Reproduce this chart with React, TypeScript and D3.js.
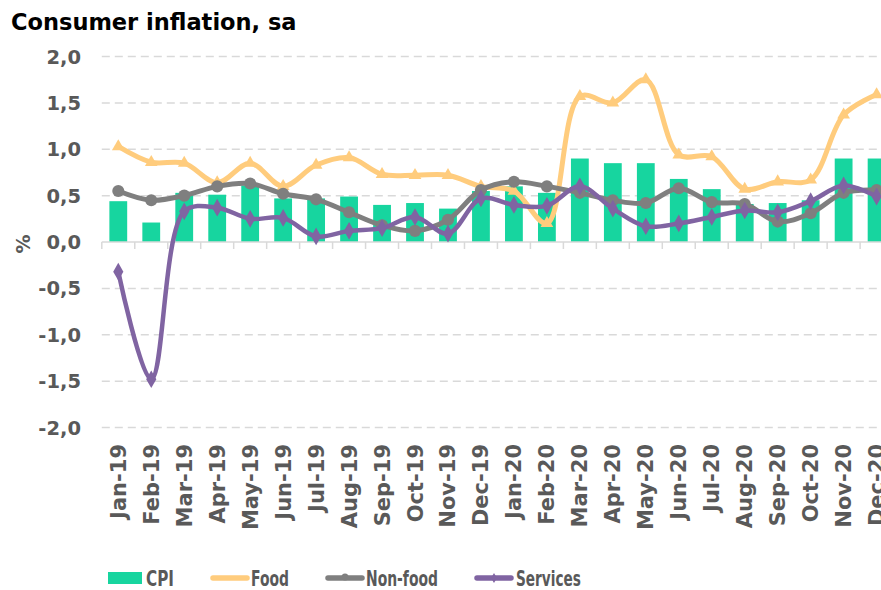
import React from 'react';
import * as d3 from 'd3';

const months = [
  'Jan-19', 'Feb-19', 'Mar-19', 'Apr-19', 'May-19', 'Jun-19', 'Jul-19', 'Aug-19', 'Sep-19', 'Oct-19', 'Nov-19', 'Dec-19',
  'Jan-20', 'Feb-20', 'Mar-20', 'Apr-20', 'May-20', 'Jun-20', 'Jul-20', 'Aug-20', 'Sep-20', 'Oct-20', 'Nov-20', 'Dec-20',
];
const cpi = [0.44, 0.21, 0.53, 0.51, 0.61, 0.47, 0.47, 0.49, 0.40, 0.42, 0.36, 0.55, 0.60, 0.53, 0.90, 0.85, 0.85, 0.68, 0.57, 0.41, 0.42, 0.45, 0.90, 0.90];
const food = [1.03, 0.86, 0.85, 0.64, 0.85, 0.60, 0.83, 0.91, 0.73, 0.72, 0.72, 0.60, 0.55, 0.20, 1.57, 1.50, 1.75, 0.94, 0.92, 0.57, 0.65, 0.67, 1.37, 1.59];
const nonFood = [0.55, 0.45, 0.50, 0.60, 0.63, 0.52, 0.46, 0.32, 0.18, 0.12, 0.24, 0.56, 0.65, 0.60, 0.53, 0.45, 0.42, 0.58, 0.43, 0.41, 0.22, 0.31, 0.53, 0.56];
const services = [-0.32, -1.48, 0.33, 0.37, 0.25, 0.26, 0.06, 0.12, 0.15, 0.27, 0.09, 0.47, 0.40, 0.39, 0.60, 0.36, 0.17, 0.20, 0.27, 0.34, 0.32, 0.44, 0.61, 0.49];
const yTicks = [2, 1.5, 1, 0.5, 0, -0.5, -1, -1.5, -2];

const W = 881;
const H = 590;
const FONT = '"DejaVu Sans", Verdana, sans-serif';
const GRAY_TEXT = '#595959';
const C_CPI = '#17D59F';
const C_FOOD = '#FFCC7D';
const C_NON = '#7F7F7F';
const C_SERV = '#8064A2';

const left = 101.8;
const step = 32.97;
const right = left + 24 * step;

const x = d3.scaleBand<string>().domain(months).range([left, right]).paddingInner(0.46).paddingOuter(0.23);
const xc = (m: string) => (x(m) ?? 0) + x.bandwidth() / 2;
const y = d3.scaleLinear().domain([-2, 2]).range([427.5, 56.5]);
const fmt = (v: number) => d3.format('.1f')(v).replace('.', ',').replace('−', '-');

const lineGen = d3.line<number>()
  .x((_, i) => xc(months[i]))
  .y((d) => y(d))
  .curve(d3.curveCatmullRom.alpha(0.5));

const triangle = d3.symbol().type(d3.symbolTriangle).size(70)() as string;
const circle = d3.symbol().type(d3.symbolCircle).size(115)() as string;
const diamond = d3.symbol().type(d3.symbolDiamond).size(90)() as string;

export default function App() {
  const boundaries = d3.range(0, 25).map((i) => left + i * step);

  const series = [
    { name: 'Food', data: food, color: C_FOOD, width: 5, marker: triangle },
    { name: 'Non-food', data: nonFood, color: C_NON, width: 5, marker: circle },
    { name: 'Services', data: services, color: C_SERV, width: 4.5, marker: diamond },
  ];

  return (
    <svg width={W} height={H} style={{ display: 'block', position: 'absolute', left: 0, top: 0 }} fontFamily={FONT}>
      <rect width={W} height={H} fill="#fff" />
      <text x={11} y={30} fontSize={22.5} fontWeight="bold" fill="#000">Consumer inflation, sa</text>

      {/* grid */}
      {yTicks.filter((t) => t !== 0).map((t) => (
        <line key={t} x1={left} x2={right} y1={y(t)} y2={y(t)} stroke="#D9D9D9" strokeWidth={1.5} strokeDasharray="8,5" />
      ))}

      {/* y tick labels */}
      {yTicks.map((t) => (
        <text key={t} x={81} y={y(t) + 7} textAnchor="end" fontSize={19.5} fontWeight="bold" fill={GRAY_TEXT}>{fmt(t)}</text>
      ))}
      <text transform={`translate(30,${y(0) + 2}) rotate(-90)`} textAnchor="middle" fontSize={19} fontWeight="bold" fill={GRAY_TEXT}>%</text>

      {/* bars */}
      {cpi.map((v, i) => (
        <rect key={i} x={x(months[i])} width={x.bandwidth()} y={Math.min(y(v), y(0))} height={Math.abs(y(v) - y(0))} fill={C_CPI} />
      ))}

      {/* zero axis */}
      <line x1={left} x2={right} y1={y(0)} y2={y(0)} stroke="#D9D9D9" strokeWidth={1.5} />
      {boundaries.map((b, i) => (
        <line key={i} x1={b} x2={b} y1={y(0)} y2={y(0) + 7} stroke="#D9D9D9" strokeWidth={1.5} />
      ))}

      {/* lines */}
      {series.map((s) => (
        <g key={s.name}>
          <path d={lineGen(s.data) ?? ''} fill="none" stroke={s.color} strokeWidth={s.width} strokeLinejoin="round" strokeLinecap="round" />
          {s.data.map((v, i) => (
            <path key={i} d={s.marker} transform={`translate(${xc(months[i])},${y(v)})`} fill={s.color} />
          ))}
        </g>
      ))}

      {/* x labels */}
      {months.map((m) => (
        <text key={m} transform={`translate(${xc(m) + 7.5},444) rotate(-90)`} textAnchor="end" fontSize={21} fontWeight="bold" fill={GRAY_TEXT}>{m}</text>
      ))}

      {/* legend */}
      <g fontSize={20.5} fontWeight="bold" fill={GRAY_TEXT}>
        <rect x={108} y={572} width={34} height={12} fill={C_CPI} />
        <text x={146} y={586} textLength={28} lengthAdjust="spacingAndGlyphs">CPI</text>
        <line x1={213} x2={247} y1={578} y2={578} stroke={C_FOOD} strokeWidth={5.5} strokeLinecap="round" />
        <text x={251} y={586} textLength={38} lengthAdjust="spacingAndGlyphs">Food</text>
        <line x1={328} x2={362} y1={578} y2={578} stroke={C_NON} strokeWidth={5.5} strokeLinecap="round" />
        <circle cx={345} cy={577} r={3.5} fill={C_NON} />
        <text x={366} y={586} textLength={72} lengthAdjust="spacingAndGlyphs">Non-food</text>
        <line x1={477} x2={511} y1={578} y2={578} stroke={C_SERV} strokeWidth={5.5} strokeLinecap="round" />
        <path d={d3.symbol().type(d3.symbolDiamond).size(30)() as string} transform="translate(494,578)" fill={C_SERV} />
        <text x={516} y={586} textLength={65} lengthAdjust="spacingAndGlyphs">Services</text>
      </g>
    </svg>
  );
}
